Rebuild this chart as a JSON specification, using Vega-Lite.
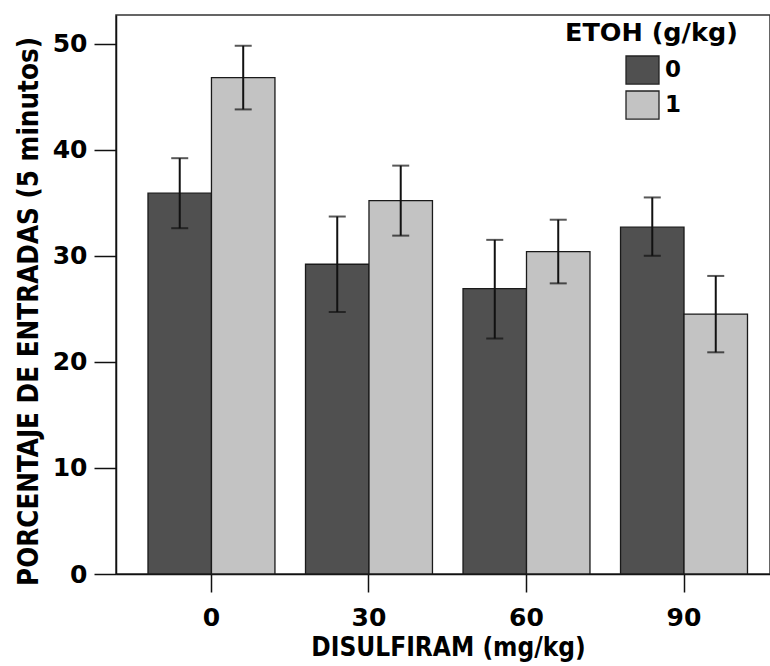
{
  "$schema": "https://vega.github.io/schema/vega-lite/v6.json",
  "autosize": "none",
  "padding": {"left": 116, "top": 15, "right": 0, "bottom": 92},
  "width": 654,
  "height": 559,
  "background": "white",
  "data": {
    "values": [
      {"dose": "0", "etoh": "0", "mean": 35.9, "lo": 32.6, "hi": 39.2},
      {"dose": "0", "etoh": "1", "mean": 46.8, "lo": 43.8, "hi": 49.8},
      {"dose": "30", "etoh": "0", "mean": 29.2, "lo": 24.7, "hi": 33.7},
      {"dose": "30", "etoh": "1", "mean": 35.2, "lo": 31.9, "hi": 38.5},
      {"dose": "60", "etoh": "0", "mean": 26.9, "lo": 22.2, "hi": 31.5},
      {"dose": "60", "etoh": "1", "mean": 30.4, "lo": 27.4, "hi": 33.4},
      {"dose": "90", "etoh": "0", "mean": 32.7, "lo": 30.0, "hi": 35.5},
      {"dose": "90", "etoh": "1", "mean": 24.5, "lo": 20.9, "hi": 28.1}
    ]
  },
  "encoding": {
    "x": {
      "field": "dose",
      "type": "ordinal",
      "sort": ["0", "30", "60", "90"],
      "scale": {"paddingInner": 0.194, "paddingOuter": 0.173, "align": 0.587},
      "axis": {
        "title": "DISULFIRAM (mg/kg)",
        "labelAngle": 0,
        "tickSize": 18,
        "labelPadding": 13,
        "titleX": 332,
        "titleY": 81,
        "titleFontSize": 26,
        "titleBaseline": "alphabetic",
        "titleAnchor": null
      }
    },
    "xOffset": {
      "field": "etoh",
      "type": "nominal",
      "sort": ["0", "1"],
      "scale": {"paddingInner": 0, "paddingOuter": 0}
    }
  },
  "layer": [
    {
      "mark": {"type": "bar", "stroke": "#1a1a1a", "strokeWidth": 1.3},
      "encoding": {
        "y": {
          "field": "mean",
          "type": "quantitative",
          "scale": {"domain": [0, 52.7], "nice": false},
          "axis": {
            "title": "PORCENTAJE DE ENTRADAS (5 minutos)",
            "values": [0, 10, 20, 30, 40, 50],
            "grid": false,
            "tickSize": 22,
            "labelPadding": 7,
            "titleFontSize": 27.5,
            "titleX": -87,
            "titleY": 296,
            "titleAngle": -90,
            "titleAlign": "center",
            "titleBaseline": "middle",
            "titleAnchor": null
          }
        },
        "fill": {
          "field": "etoh",
          "type": "nominal",
          "sort": ["0", "1"],
          "scale": {"range": ["#505050", "#c3c3c3"]},
          "legend": {
            "title": "ETOH (g/kg)",
            "orient": "none",
            "legendX": 449,
            "legendY": 6,
            "padding": 0,
            "symbolType": "M-1,-0.85H1V0.85H-1Z",
            "symbolSize": 1089,
            "symbolStrokeColor": "#222",
            "symbolStrokeWidth": 1.3,
            "symbolOffset": 60,
            "labelOffset": 5,
            "rowPadding": 0,
            "titlePadding": 6,
            "titleFont": "DejaVu Sans",
            "titleFontSize": 25.5,
            "titleFontWeight": "bold",
            "titleColor": "black",
            "labelFont": "DejaVu Sans",
            "labelFontSize": 23,
            "labelFontWeight": "bold",
            "labelColor": "black"
          }
        }
      }
    },
    {
      "mark": {"type": "rule", "color": "#111", "strokeWidth": 2},
      "encoding": {
        "y": {"field": "lo", "type": "quantitative"},
        "y2": {"field": "hi"}
      }
    },
    {
      "mark": {"type": "tick", "color": "#111", "size": 17, "thickness": 2},
      "encoding": {
        "y": {"field": "hi", "type": "quantitative"}
      }
    },
    {
      "mark": {"type": "tick", "color": "#111", "size": 17, "thickness": 2},
      "encoding": {
        "y": {"field": "lo", "type": "quantitative"}
      }
    }
  ],
  "config": {
    "view": {"stroke": "#333", "strokeWidth": 1.5},
    "axis": {
      "labelFont": "DejaVu Sans",
      "labelFontSize": 25,
      "labelFontWeight": "bold",
      "labelColor": "black",
      "titleFont": "DejaVu Sans Condensed",
      "titleFontWeight": "bold",
      "titleColor": "black",
      "domainColor": "#111",
      "domainWidth": 1.5,
      "tickColor": "#111",
      "tickWidth": 1.5
    }
  }
}
